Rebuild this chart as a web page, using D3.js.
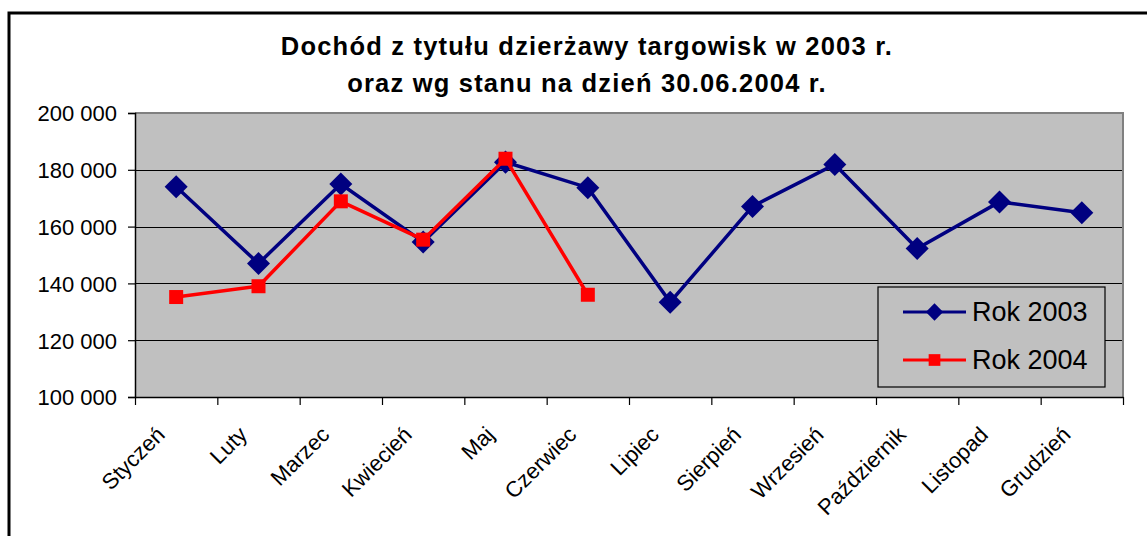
<!DOCTYPE html>
<html>
<head>
<meta charset="utf-8">
<script src="https://cdn.jsdelivr.net/npm/d3@7"></script>
<style>
  html, body { margin: 0; padding: 0; background: #fff; }
  svg { display: block; }
  text { font-family: "Liberation Sans", Arial, sans-serif; fill: #000; }
</style>
</head>
<body>
<svg id="chart" width="1147" height="536"></svg>
<script>
// Miesiące
const months = ["Styczeń", "Luty", "Marzec", "Kwiecień", "Maj", "Czerwiec",
  "Lipiec", "Sierpień", "Wrzesień", "Październik", "Listopad", "Grudzień"];

// Dochód z dzierżawy targowisk (zł)
const rok2003 = [174000, 147000, 175000, 154600, 182700, 173700,
  133400, 167100, 181900, 152300, 168700, 164900];
const rok2004 = [135200, 139000, 168900, 155400, 183900, 136000];

const yTicks = [100000, 120000, 140000, 160000, 180000, 200000];
const titleLines = ["Dochód z tytułu dzierżawy targowisk w 2003 r.",
  "oraz wg stanu na dzień 30.06.2004 r."];
const seriesNames = ["Rok 2003", "Rok 2004"];

const svg = d3.select("#chart");
const W = 1147, H = 536;
const plot = { left: 135, right: 1123, top: 113, bottom: 397 };

const plNum = d3.formatLocale({ decimal: ",", thousands: "\u00a0", grouping: [3], currency: ["", " zł"] }).format(",");

// Ramka wykresu
svg.append("rect")
  .attr("x", 9).attr("y", 13)
  .attr("width", W + 20).attr("height", H + 20)
  .attr("fill", "#fff").attr("stroke", "#000").attr("stroke-width", 3);

// Tytuł
svg.append("text")
  .attr("text-anchor", "middle")
  .style("font-weight", "bold").style("font-size", "25.5px").style("letter-spacing", "1.2px")
  .selectAll("tspan").data(titleLines).join("tspan")
  .attr("x", 587).attr("y", (d, i) => 55 + i * 37)
  .text(d => d);

const x = d3.scaleBand().domain(months).range([plot.left, plot.right]).paddingInner(0).paddingOuter(0);
const xEdge = d3.scaleLinear().domain([0, months.length]).range([plot.left, plot.right]);
const y = d3.scaleLinear().domain([100000, 200000]).range([plot.bottom, plot.top]);
const cx = m => x(m) + x.bandwidth() / 2;

// Obszar kreślenia
svg.append("rect")
  .attr("x", plot.left).attr("y", plot.top)
  .attr("width", plot.right - plot.left).attr("height", plot.bottom - plot.top)
  .attr("fill", "#c0c0c0");

// Linie siatki
svg.append("g")
  .selectAll("line").data(yTicks.filter(v => v > 100000 && v < 200000)).join("line")
  .attr("x1", plot.left).attr("x2", plot.right)
  .attr("y1", d => Math.round(y(d)) + 0.5).attr("y2", d => Math.round(y(d)) + 0.5)
  .attr("stroke", "#000").attr("stroke-width", 1);

// Obramowanie obszaru (góra i prawa)
svg.append("path")
  .attr("d", `M${plot.left},${plot.top}H${plot.right}V${plot.bottom}`)
  .attr("fill", "none").attr("stroke", "#808080").attr("stroke-width", 2);

// Oś Y
const yAxis = svg.append("g")
  .attr("transform", `translate(${plot.left},0)`)
  .call(d3.axisLeft(y).tickValues(yTicks).tickSize(7).tickPadding(11).tickFormat(plNum));
yAxis.select(".domain").attr("stroke", "#000").attr("stroke-width", 1.5);
yAxis.selectAll(".tick line").attr("stroke", "#000").attr("stroke-width", 1.2);
yAxis.selectAll(".tick text").style("font-size", "22px").attr("dy", "0.36em");

// Oś X – znaczniki na granicach kategorii
const xAxis = svg.append("g")
  .attr("transform", `translate(0,${plot.bottom})`)
  .call(d3.axisBottom(xEdge).tickValues(d3.range(months.length + 1)).tickSize(8).tickSizeOuter(0).tickFormat(""));
xAxis.select(".domain").attr("stroke", "#000").attr("stroke-width", 1.5);
xAxis.selectAll(".tick line").attr("stroke", "#000").attr("stroke-width", 1.2);

// Etykiety miesięcy
svg.append("g").selectAll("text").data(months).join("text")
  .attr("text-anchor", "end")
  .style("font-size", "22px")
  .attr("transform", d => `translate(${cx(d) - 10},${plot.bottom + 39}) rotate(-45)`)
  .text(d => d);

// Serie
const line = d3.line().x((d, i) => cx(months[i])).y(d => y(d));
const diamond = d3.symbol(d3.symbolSquare, 265);
const square = d3.symbol(d3.symbolSquare, 196);

const g2003 = svg.append("g");
g2003.append("path").attr("d", line(rok2003))
  .attr("fill", "none").attr("stroke", "#000080").attr("stroke-width", 3.5).attr("stroke-linejoin", "miter");
g2003.selectAll("path.m").data(rok2003).join("path").attr("class", "m")
  .attr("d", diamond)
  .attr("transform", (d, i) => `translate(${cx(months[i])},${y(d)}) rotate(45)`)
  .attr("fill", "#000080");

const g2004 = svg.append("g");
g2004.append("path").attr("d", line(rok2004))
  .attr("fill", "none").attr("stroke", "#ff0000").attr("stroke-width", 3.5);
g2004.selectAll("path.m").data(rok2004).join("path").attr("class", "m")
  .attr("d", square)
  .attr("transform", (d, i) => `translate(${cx(months[i])},${y(d)})`)
  .attr("fill", "#ff0000");

// Legenda
const lg = svg.append("g").attr("transform", "translate(878,287)");
lg.append("rect").attr("x", 0).attr("y", 0).attr("width", 227).attr("height", 100)
  .attr("fill", "#c0c0c0").attr("stroke", "#000").attr("stroke-width", 1.2);
const legendItems = [
  { name: seriesNames[0], color: "#000080", sym: d3.symbol(d3.symbolSquare, 150), rot: 45 },
  { name: seriesNames[1], color: "#ff0000", sym: d3.symbol(d3.symbolSquare, 137), rot: 0 }
];
const li = lg.selectAll("g.item").data(legendItems).join("g").attr("class", "item")
  .attr("transform", (d, i) => `translate(0,${25 + i * 48})`);
li.append("line").attr("x1", 25).attr("x2", 88).attr("y1", 0).attr("y2", 0)
  .attr("stroke", d => d.color).attr("stroke-width", 3);
li.append("path").attr("d", d => d.sym())
  .attr("transform", d => `translate(56.5,0) rotate(${d.rot})`)
  .attr("fill", d => d.color);
li.append("text").attr("x", 94).attr("y", 0).attr("dy", "0.35em")
  .style("font-size", "27px").text(d => d.name);
</script>
</body>
</html>
